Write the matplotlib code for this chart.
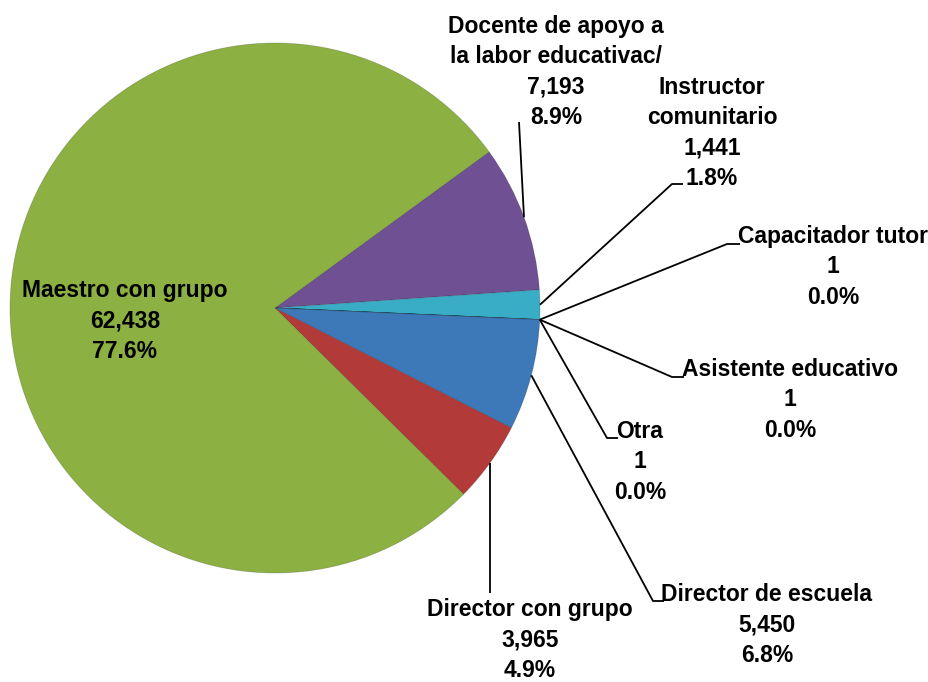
import matplotlib
matplotlib.use("Agg")
import matplotlib.pyplot as plt
import numpy as np
from matplotlib import font_manager

categories = ["Docente de apoyo a\nla labor educativac/", "Instructor\ncomunitario",
              "Capacitador tutor", "Asistente educativo", "Otra",
              "Director de escuela", "Director con grupo", "Maestro con grupo"]
values = [7193, 1441, 1, 1, 1, 5450, 3965, 62438]
colors = ["#6F5193", "#3AADC6", "#3AADC6", "#3D78B9", "#3D78B9", "#3D78B9", "#B23B39", "#8CB142"]

fams = {f.name for f in font_manager.fontManager.ttflist}
family = ["Liberation Sans Narrow", "DejaVu Sans"] if "Liberation Sans Narrow" in fams else ["Liberation Sans", "DejaVu Sans"]
plt.rcParams['font.family'] = family

W, H = 929, 682
fig = plt.figure(figsize=(W / 100, H / 100), dpi=100)
ax = fig.add_axes([0, 0, 1, 1])
ax.set_xlim(0, W)
ax.set_ylim(0, H)
ax.set_aspect('equal')
ax.axis('off')

cx, cy, R = 275, H - 308, 265
start = 36.1
wedges, _ = ax.pie(values, colors=colors, startangle=start, counterclock=False,
                   center=(cx, cy), radius=R, frame=True,
                   wedgeprops=dict(edgecolor="#00000030", linewidth=0.6))
ax.set_xlim(0, W)
ax.set_ylim(0, H)
ax.axis('off')

total = sum(values)
# label layout (image pixel coords): text center, elbow point, elbow end
layout = [
    dict(t=(556, 72), elbow=None, end=(519, 122)),
    dict(t=(712, 133), elbow=(672, 184), end=(683, 184)),
    dict(t=(833, 267), elbow=(727, 244), end=(740, 244)),
    dict(t=(790, 400), elbow=(672, 377), end=(684, 377)),
    dict(t=(640, 462), elbow=(607, 438), end=(618, 438)),
    dict(t=(767, 625), elbow=(653, 601), end=(664, 601)),
    dict(t=(530, 640), elbow=None, end=(487, 593)),
    dict(t=(125, 321), elbow=None, end=None),
]

# wedge mid angles
angs = []
a = start
for v in values:
    span = v / total * 360
    angs.append(a - span / 2)
    a -= span

for i, (cat, v) in enumerate(zip(categories, values)):
    L = layout[i]
    txt = f"{cat}\n{v:,}\n{v / total * 100:.1f}%"
    ax.text(L['t'][0], H - L['t'][1], txt, ha='center', va='center',
            fontsize=16.5, fontweight='bold', linespacing=1.4, color='black')
    if L['end'] is None:
        continue
    th = np.deg2rad(angs[i])
    p0 = (cx + R * np.cos(th), cy + R * np.sin(th))
    if i == 0:
        xs = [p0[0], L['end'][0]]
        ys = [p0[1], H - L['end'][1]]
    elif i == 6:
        xs = [p0[0], p0[0]]
        ys = [p0[1], H - L['end'][1]]
    else:
        if i in (2, 3, 4):
            th = np.deg2rad(angs[2])
            p0 = (cx + R * np.cos(th), cy + R * np.sin(th))
        xs = [p0[0], L['elbow'][0], L['end'][0]]
        ys = [p0[1], H - L['elbow'][1], H - L['end'][1]]
    ax.plot(xs, ys, color='black', linewidth=1.3, solid_capstyle='butt', zorder=5)

fig.savefig("out.png", dpi=100)
